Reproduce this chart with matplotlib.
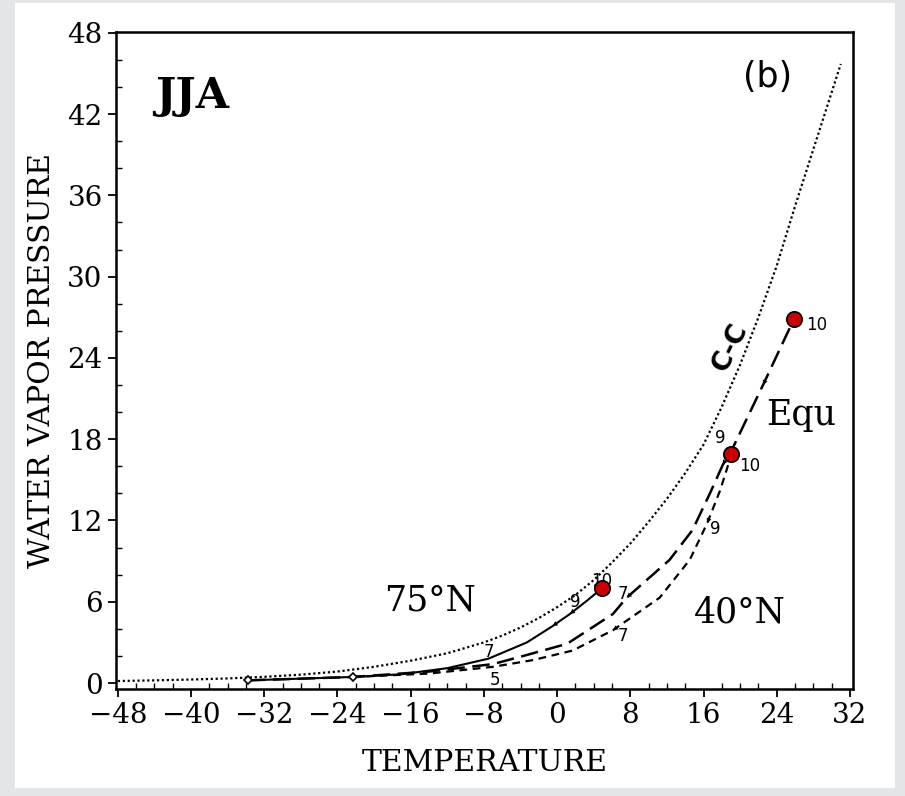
import matplotlib
matplotlib.use("Agg")
import matplotlib.pyplot as plt
from matplotlib.patches import Rectangle

# Clausius-Clapeyron saturation curve
cc_t = [-48, -44, -40, -36, -32, -28, -24, -20, -16, -12, -10, -8, -6, -4, -2, 0, 2, 4, 6, 8,
        10, 12, 14, 16, 18, 20, 22, 24, 26, 28, 30, 31]
cc_e = [0.15, 0.2, 0.26, 0.34, 0.46, 0.62, 0.85, 1.2, 1.65, 2.2, 2.6, 3.0, 3.5, 4.1, 4.8, 5.6,
        6.5, 7.6, 8.9, 10.3, 11.9, 13.6, 15.5, 17.6, 20.4, 23.5, 27.0, 30.8, 35.2, 39.4, 43.6, 45.7]

# 75N profile (solid)
n75_t = [-33.8, -22.3, -17.0, -12.0, -7.5, -3.3, -0.5, 1.4, 3.3, 4.9]
n75_e = [0.2, 0.45, 0.65, 1.1, 1.8, 3.0, 4.2, 5.1, 6.1, 7.0]

# equator profile (long dash)
equ_t = [-33.8, -22.3, -14.0, -7.0, -3.7, 1.1, 6.1, 7.6, 12.3, 14.8, 16.7, 18.1, 19.3, 22.5, 25.9]
equ_e = [0.2, 0.45, 0.85, 1.4, 2.0, 2.9, 5.1, 6.3, 9.1, 11.3, 14.0, 16.1, 17.5, 22.0, 26.9]

# 40N profile (short dash)
n40_t = [-22.3, -14.0, -7.0, -2.6, 1.7, 6.1, 11.2, 14.5, 16.4, 17.8, 18.6, 19.0]
n40_e = [0.45, 0.7, 1.2, 1.7, 2.4, 3.9, 6.3, 9.1, 11.8, 14.2, 15.9, 16.9]

# surface (level 10) points
surf_t = [4.9, 19.0, 25.9]
surf_e = [7.0, 16.9, 26.9]

# level labels: text, T, e
lev_txt = ["10", "9", "10", "9", "7", "7", "9", "10", "7", "5"]
lev_t = [27.2, 17.3, 19.9, 16.7, 6.6, 6.6, 1.4, 3.7, -8.0, -7.4]
lev_e = [26.4, 18.1, 16.0, 11.4, 6.6, 3.5, 6.0, 7.5, 2.3, 0.25]

fig = plt.figure(figsize=(9.05, 7.96), dpi=100)
fig.patch.set_facecolor("#e4e5e8")
fig.patches.append(Rectangle((15 / 905, 1 - 788 / 796), 880 / 905, 785 / 796,
                             transform=fig.transFigure, facecolor="white",
                             edgecolor="none", zorder=-5))

ax = fig.add_axes([0.128, 0.1344, 0.8145, 0.8256])
ax.set_zorder(2)
ax.set_xlim(-48.22, 32.33)
ax.set_ylim(-0.44, 48.07)

ax.plot(cc_t, cc_e, color="black", lw=1.6, linestyle=(0, (1, 1.2)))
ax.plot(n75_t, n75_e, color="black", lw=1.5, linestyle="-")
ax.plot(equ_t, equ_e, color="black", lw=1.8, linestyle=(0, (7, 3)))
ax.plot(n40_t, n40_e, color="black", lw=1.6, linestyle=(0, (3.5, 2.5)))
ax.plot(n75_t[:2], n75_e[:2], linestyle="none", marker="D", ms=4,
        mfc="white", mec="black", mew=1.2)

# arrowheads pointing up the profile (toward lower T)
def arrow(ts, es, i):
    ax.annotate("", xy=(ts[i], es[i]), xytext=(ts[i + 1], es[i + 1]),
                arrowprops=dict(arrowstyle="-|>", color="black", lw=0,
                                mutation_scale=9, shrinkA=0, shrinkB=0))

for i in [6, 7]:
    arrow(n75_t, n75_e, i)
for i in [7, 11, 13]:
    arrow(equ_t, equ_e, i)
for i in [5, 8]:
    arrow(n40_t, n40_e, i)

for s, t, e in zip(lev_txt, lev_t, lev_e):
    ax.text(t, e, s, fontsize=12, family="DejaVu Sans", ha="left", va="center")

ax.plot(surf_t, surf_e, linestyle="none", marker="o", ms=11,
        mfc="#cc0000", mec="black", mew=1.3, zorder=5)

ax.text(-39.9, 43.3, "JJA", fontsize=31, family="DejaVu Serif",
        fontweight="bold", ha="center", va="center")
ax.text(23.0, 44.7, "(b)", fontsize=25, family="DejaVu Sans",
        ha="center", va="center")
ax.text(-13.9, 6.1, "75°N", fontsize=25, family="DejaVu Serif",
        ha="center", va="center")
ax.text(20.0, 5.2, "40°N", fontsize=25, family="DejaVu Serif",
        ha="center", va="center")
ax.text(26.7, 19.8, "Equ", fontsize=25, family="DejaVu Serif",
        ha="center", va="center")
ax.text(18.9, 24.8, "C-C", fontsize=19, family="DejaVu Sans",
        fontweight="bold", ha="center", va="center", rotation=64)

ax.set_xticks(range(-48, 33, 8))
ax.set_yticks(range(0, 49, 6))
ax.set_xticks(range(-48, 33, 2), minor=True)
ax.set_yticks(range(0, 49, 2), minor=True)
ax.set_xticklabels([str(v).replace("-", "\u2212") for v in range(-48, 33, 8)])
ax.tick_params(which="major", direction="out", length=6, width=1.3,
               labelsize=20)
ax.tick_params(which="minor", direction="in", length=4, width=1.0)
for lab in ax.get_xticklabels() + ax.get_yticklabels():
    lab.set_family("DejaVu Serif")
for sp in ax.spines.values():
    sp.set_linewidth(1.8)

ax.set_xlabel("TEMPERATURE", fontsize=21.5, family="DejaVu Serif", labelpad=14)
ax.set_ylabel("WATER VAPOR PRESSURE", fontsize=21.5, family="DejaVu Serif",
              labelpad=8)

fig.savefig("out.png", dpi=100, facecolor=fig.get_facecolor())
